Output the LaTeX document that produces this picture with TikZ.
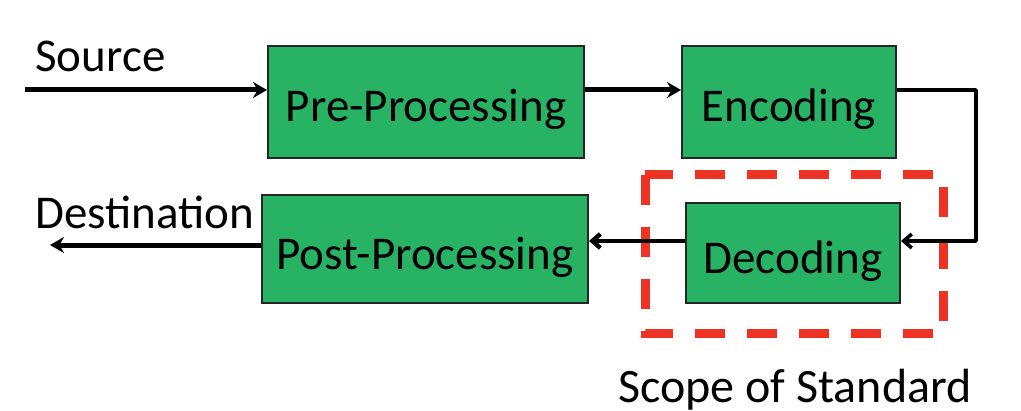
\documentclass[tikz,border=0pt]{standalone}
\usepackage{fontspec}
\setmainfont{Carlito}
\usepackage{xcolor}
\usetikzlibrary{arrows.meta, positioning, calc}
\definecolor{blockgreen}{HTML}{27B264}
\definecolor{scopered}{HTML}{EE3224}

\begin{document}
\begin{tikzpicture}[
  x=0.5pt, y=-0.5pt,
  every node/.style={font=\fontsize{23.5}{28}\selectfont},
  block/.style={draw=black!85, line width=1pt, fill=blockgreen,
    minimum height=56pt, inner sep=0pt, text height=20pt, text depth=0pt},
  flow/.style={-{Stealth[length=7pt, width=8pt]}, line width=2.5pt},
  link/.style={-{Straight Barb[length=4pt, width=7pt]}, line width=1.8pt, line join=round},
  lbl/.style={anchor=base west, inner sep=0pt},
  scopebox/.style={draw=scopered, line width=4.5pt, dash pattern=on 15pt off 11pt},
]
  \useasboundingbox (0,0) rectangle (1021,411);

  % Blocks
  \node[block, minimum width=158pt] (pre)  at (426,102) {Pre-Processing};
  \node[block, minimum width=107pt] (enc)  at (789,102) {Encoding};
  \node[block, minimum width=163pt, minimum height=54pt] (post) at (425,249) {Post-Processing};
  \node[block, minimum width=107pt, minimum height=50pt] (dec)  at (793,253) {Decoding};

  % Scope of the standard
  \draw[scopebox] (645,175) rectangle (943,333);
  \node[lbl, font=\fontsize{24}{29}\selectfont] (scope) at (618,402) {Scope of Standard};

  % In and out
  \coordinate (src) at (25,90);
  \coordinate (dst) at (50,245);
  \node[lbl] (srclbl) at (35,72) {Source};
  \node[lbl] (dstlbl) at (35,228) {Destination};

  % Connectors
  \draw[flow] (src) -- ([yshift=6pt]pre.west);
  \draw[flow] ([yshift=6pt]pre.east) -- ([yshift=6pt]enc.west);
  \draw[link] ([yshift=6pt]enc.east) -- ++(39.5pt,0) |- ([yshift=6pt]dec.east);
  \draw[link, line width=2.2pt] ([yshift=6pt]dec.west) -- ([yshift=6pt]dec.west -| post.east);
  \draw[flow] ([yshift=2pt]post.west) -- (dst);
\end{tikzpicture}
\end{document}
